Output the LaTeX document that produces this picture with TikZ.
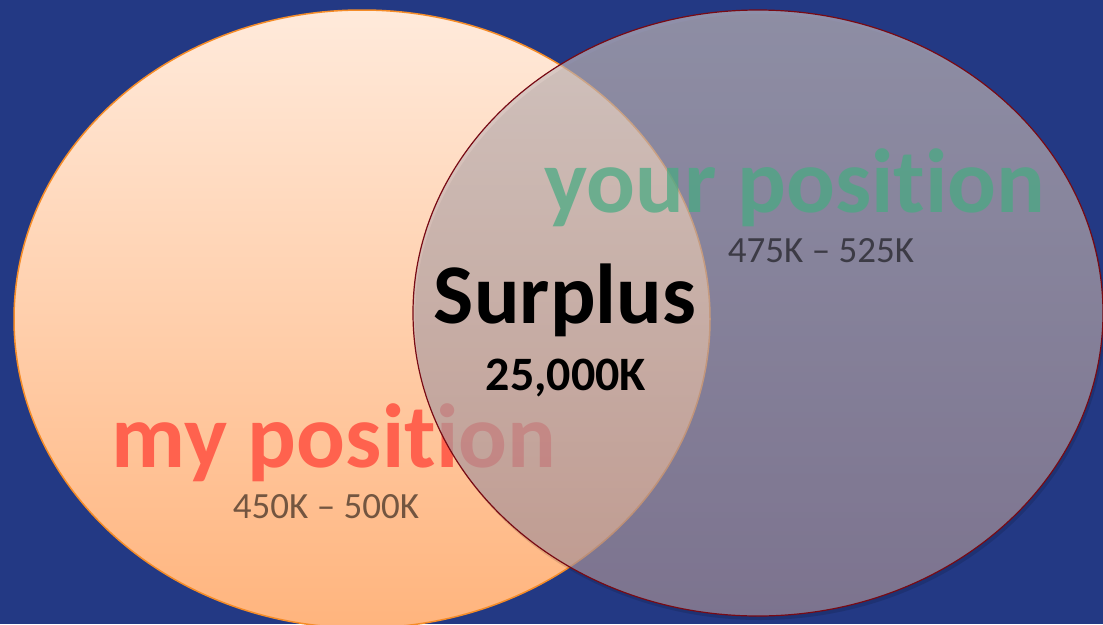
\documentclass[tikz,border=0pt]{standalone}
\usepackage{fontspec}
\setmainfont[Ligatures={NoCommon}]{Carlito}
\definecolor{bgblue}{RGB}{35,57,132}
\definecolor{peachtop}{RGB}{255,234,219}
\definecolor{peachbot}{RGB}{255,180,125}
\definecolor{orangeedge}{RGB}{245,140,40}
\definecolor{greytop}{RGB}{200,190,190}
\definecolor{greybot}{RGB}{174,150,158}
\definecolor{darkred}{RGB}{120,10,20}
\definecolor{yourgreen}{RGB}{72,170,130}
\definecolor{mysalmon}{RGB}{255,98,78}
\tikzset{
  bigword/.style={font=\bfseries\fontsize{91}{91}\selectfont, anchor=base, inner sep=0pt},
  rangetext/.style={font=\fontsize{37}{37}\selectfont, anchor=base, inner sep=0pt, text=black, text opacity=0.55},
}
\begin{document}
\begin{tikzpicture}[x=1pt,y=-1pt]
\fill[bgblue] (0,0) rectangle (1103,624);
\useasboundingbox (0,0) rectangle (1103,624);
% left ellipse
\path[top color=peachtop, bottom color=peachbot, draw=orangeedge, line width=1.5pt]
  (362,319) ellipse [x radius=348, y radius=309];
\node[bigword, text=mysalmon] (mypos) at (334,467) {my position};
% shadow of right ellipse
\fill[black, opacity=0.12] (760,317) ellipse [x radius=345, y radius=303];
% right ellipse
\path[top color=greytop, bottom color=greybot, fill opacity=0.66, draw=darkred, line width=1.2pt]
  (758,313) ellipse [x radius=345, y radius=303];
\node[bigword, text=yourgreen, text opacity=0.72] (yourpos) at (795,212) {your position};
\node[rangetext] (yourrange) at (821,262) {475K – 525K};
\node[rangetext] (myrange) at (326,518) {450K – 500K};
\node[font=\bfseries\fontsize{85}{85}\selectfont, anchor=base, inner sep=0pt] (surplus) at (565,323) {Surplus};
\node[font=\bfseries\fontsize{48}{48}\selectfont, anchor=base, inner sep=0pt] (amount) at (566,390) {25,000K};
\end{tikzpicture}
\end{document}
